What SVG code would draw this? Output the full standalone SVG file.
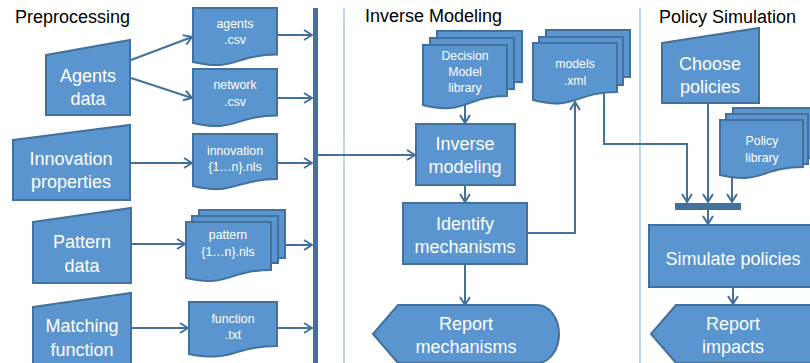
<svg xmlns="http://www.w3.org/2000/svg" width="810" height="363" viewBox="0 0 810 363">
<defs>
<style>
.shape{fill:#5b95cf;stroke:#41719c;stroke-width:2;stroke-linejoin:miter}
.lbl{font-family:"Liberation Sans",Arial,sans-serif;font-size:18px;fill:#ffffff;text-anchor:middle}
.sm{font-family:"Liberation Sans",Arial,sans-serif;font-size:12.3px;fill:#ffffff;text-anchor:middle}
.title{font-family:"Liberation Sans",Arial,sans-serif;font-size:18px;fill:#000000}
.conn{fill:none;stroke:#41719c;stroke-width:2}
.sep{stroke:#a9c7e8;stroke-width:1.5}
</style>
<marker id="arr" viewBox="0 0 10 12" refX="9" refY="6" markerWidth="10" markerHeight="12" markerUnits="userSpaceOnUse" orient="auto">
<path d="M1,1 L9,6 L1,11" fill="none" stroke="#41719c" stroke-width="2"/>
</marker>
</defs>
<rect width="810" height="363" fill="#ffffff"/>

<g id="separators">
<line class="sep" x1="344" y1="8" x2="344" y2="363"/>
<line class="sep" x1="640" y1="8" x2="640" y2="363"/>
</g>

<g id="titles">
<text class="title" x="15" y="23">Preprocessing</text>
<text class="title" x="365" y="22">Inverse Modeling</text>
<text class="title" x="659" y="23">Policy Simulation</text>
</g>

<g id="bar-main"><rect x="313" y="8" width="5" height="355" fill="#41719c"/></g>
<g id="bar-policy"><rect x="675" y="203" width="66" height="7" fill="#41719c"/></g>

<g id="connectors">
<line class="conn" x1="131" y1="60" x2="192" y2="37" marker-end="url(#arr)"/>
<line class="conn" x1="131" y1="78" x2="192" y2="98" marker-end="url(#arr)"/>
<line class="conn" x1="277" y1="35" x2="312" y2="35" marker-end="url(#arr)"/>
<line class="conn" x1="277" y1="98" x2="312" y2="98" marker-end="url(#arr)"/>
<line class="conn" x1="131" y1="163" x2="192" y2="163" marker-end="url(#arr)"/>
<line class="conn" x1="277" y1="163" x2="312" y2="163" marker-end="url(#arr)"/>
<line class="conn" x1="131" y1="244" x2="185" y2="244" marker-end="url(#arr)"/>
<line class="conn" x1="285" y1="245" x2="312" y2="245" marker-end="url(#arr)"/>
<line class="conn" x1="131" y1="328" x2="188" y2="328" marker-end="url(#arr)"/>
<line class="conn" x1="277" y1="328" x2="312" y2="328" marker-end="url(#arr)"/>
<line class="conn" x1="318" y1="155" x2="415" y2="155" marker-end="url(#arr)"/>
<line class="conn" x1="465" y1="104" x2="465" y2="123" marker-end="url(#arr)"/>
<line class="conn" x1="465" y1="185" x2="465" y2="202" marker-end="url(#arr)"/>
<line class="conn" x1="465" y1="264" x2="465" y2="305" marker-end="url(#arr)"/>
<polyline class="conn" points="527,233 575,233 575,102" marker-end="url(#arr)"/>
<polyline class="conn" points="604,92 604,144 687,144 687,202" marker-end="url(#arr)"/>
<line class="conn" x1="708" y1="103" x2="708" y2="202" marker-end="url(#arr)"/>
<line class="conn" x1="732" y1="177" x2="732" y2="202" marker-end="url(#arr)"/>
<line class="conn" x1="708" y1="210" x2="708" y2="224" marker-end="url(#arr)"/>
<line class="conn" x1="733" y1="287" x2="733" y2="304" marker-end="url(#arr)"/>
</g>

<g id="agents-data">
<path class="shape" d="M46,55 L130,40 L130,115 L46,115 Z"/>
<text class="lbl" x="88" y="82">Agents</text>
<text class="lbl" x="88" y="105">data</text>
</g>

<g id="innovation-properties">
<path class="shape" d="M13,140 L130,125 L130,200 L13,200 Z"/>
<text class="lbl" x="71" y="165">Innovation</text>
<text class="lbl" x="71" y="188">properties</text>
</g>

<g id="pattern-data">
<path class="shape" d="M33,222 L131,208 L131,283 L33,283 Z"/>
<text class="lbl" x="82" y="248">Pattern</text>
<text class="lbl" x="82" y="272">data</text>
</g>

<g id="matching-function">
<path class="shape" d="M33,307 L131,293 L131,370 L33,370 Z"/>
<text class="lbl" x="82" y="332">Matching</text>
<text class="lbl" x="82" y="356">function</text>
</g>

<g id="agents-csv">
<path class="shape" d="M193,8 H277 V54.5 C235,54.5 235,72 193,62 Z"/>
<text class="sm" x="235" y="28">agents</text>
<text class="sm" x="235" y="44">.csv</text>
</g>

<g id="network-csv">
<path class="shape" d="M193,69 H277 V115.5 C235,115.5 235,133 193,123 Z"/>
<text class="sm" x="235" y="89">network</text>
<text class="sm" x="235" y="106">.csv</text>
</g>

<g id="innovation-nls">
<path class="shape" d="M193,134 H277 V179 C235,179 235,196 193,186 Z"/>
<text class="sm" x="235" y="155">innovation</text>
<text class="sm" x="235" y="171">{1…n}.nls</text>
</g>

<g id="pattern-nls">
<rect class="shape" x="199" y="210" width="86" height="48"/>
<rect class="shape" x="192" y="216" width="86" height="47"/>
<path class="shape" d="M186,222 H271 V270 C228.5,270 228.5,288 186,278 Z"/>
<text class="sm" x="228" y="239">pattern</text>
<text class="sm" x="228" y="256">{1…n}.nls</text>
</g>

<g id="function-txt">
<path class="shape" d="M189,302 H277 V346 C233,346 233,363 189,354 Z"/>
<text class="sm" x="233" y="323">function</text>
<text class="sm" x="233" y="339">.txt</text>
</g>

<g id="decision-model-library">
<rect class="shape" x="437" y="31" width="85" height="51"/>
<rect class="shape" x="430" y="38" width="84" height="51"/>
<path class="shape" d="M423,45 H507 V96 C465,96 465,116 423,105 Z"/>
<text class="sm" x="465" y="60">Decision</text>
<text class="sm" x="465" y="76">Model</text>
<text class="sm" x="465" y="92">library</text>
</g>

<g id="models-xml">
<rect class="shape" x="546" y="30" width="84" height="47"/>
<rect class="shape" x="539" y="37" width="84" height="48"/>
<path class="shape" d="M533,43 H617 V92 C575,92 575,111 533,100 Z"/>
<text class="sm" x="575" y="68">models</text>
<text class="sm" x="575" y="85">.xml</text>
</g>

<g id="inverse-modeling">
<rect class="shape" x="416" y="124" width="99" height="61"/>
<text class="lbl" x="465" y="150">Inverse</text>
<text class="lbl" x="465" y="173">modeling</text>
</g>

<g id="identify-mechanisms">
<rect class="shape" x="403" y="203" width="124" height="61"/>
<text class="lbl" x="465" y="230">Identify</text>
<text class="lbl" x="465" y="253">mechanisms</text>
</g>

<g id="report-mechanisms">
<path class="shape" d="M373,334 L398,305 H537 A22,29 0 0 1 537,363 H398 Z"/>
<text class="lbl" x="466" y="330">Report</text>
<text class="lbl" x="466" y="353">mechanisms</text>
</g>

<g id="choose-policies">
<path class="shape" d="M662,43 L759,28 L759,103 L662,103 Z"/>
<text class="lbl" x="710" y="70">Choose</text>
<text class="lbl" x="710" y="93">policies</text>
</g>

<g id="policy-library">
<rect class="shape" x="733" y="108" width="84" height="50"/>
<rect class="shape" x="726" y="114" width="82" height="50"/>
<path class="shape" d="M720,120 H803 V167 C761.5,167 761.5,185 720,175 Z"/>
<text class="sm" x="762" y="145">Policy</text>
<text class="sm" x="762" y="162">library</text>
</g>

<g id="simulate-policies">
<rect class="shape" x="649" y="225" width="168" height="62"/>
<text class="lbl" x="733" y="265">Simulate policies</text>
</g>

<g id="report-impacts">
<path class="shape" d="M651,334 L676,305 H815 A22,29 0 0 1 815,363 H676 Z"/>
<text class="lbl" x="733" y="330">Report</text>
<text class="lbl" x="733" y="353">impacts</text>
</g>
</svg>
